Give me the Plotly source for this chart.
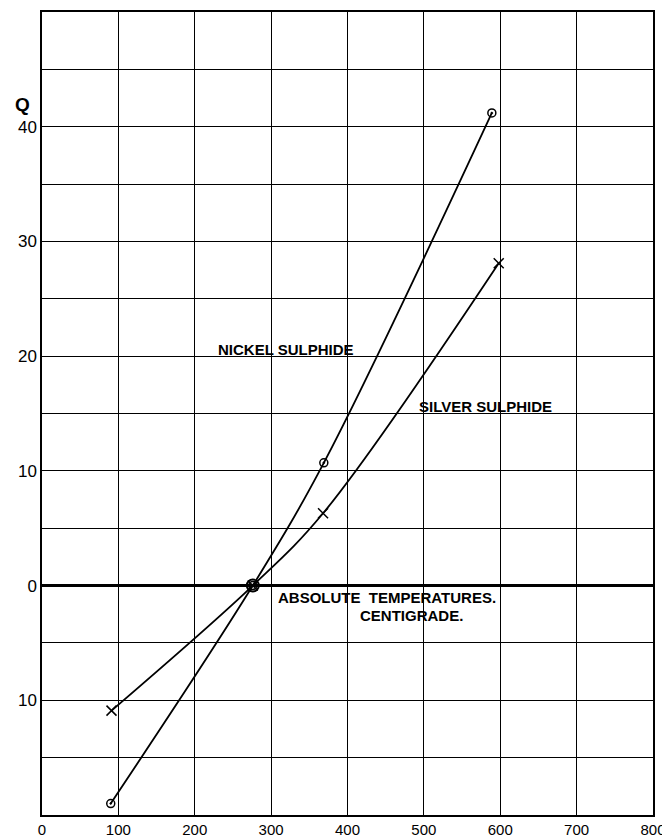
import plotly.graph_objects as go

nickel_x = [90, 276, 369, 589]
nickel_y = [-19.0, 0.0, 10.7, 41.2]
silver_x = [91, 276, 368, 598]
silver_y = [-10.9, 0.0, 6.3, 28.1]

x_ticks = [0, 100, 200, 300, 400, 500, 600, 700, 800]
y_tickvals = [-10, 0, 10, 20, 30, 40]
y_ticktext = ["10", "0", "10", "20", "30", "40"]

FONT = "Liberation Sans"

fig = go.Figure()
fig.add_trace(go.Scatter(
    x=nickel_x, y=nickel_y, mode="lines+markers",
    line=dict(color="black", width=1.8, shape="spline", smoothing=1.0),
    marker=dict(symbol="circle-open-dot", size=8, color="black", line=dict(width=1.5)),
    showlegend=False))
fig.add_trace(go.Scatter(
    x=silver_x, y=silver_y, mode="lines+markers",
    line=dict(color="black", width=1.8, shape="spline", smoothing=1.0),
    marker=dict(symbol="x-thin-open", size=10, color="black", line=dict(width=1.5, color="black")),
    showlegend=False))
fig.add_trace(go.Scatter(
    x=[nickel_x[1]], y=[nickel_y[1]], mode="markers",
    marker=dict(symbol="circle-open-dot", size=12, color="black", line=dict(width=2)),
    showlegend=False))

ann_font = dict(family=FONT, size=15, color="black")
fig.add_annotation(x=320, y=20.6, text="<b>NICKEL SULPHIDE</b>", showarrow=False,
                   xanchor="center", font=ann_font)
fig.add_annotation(x=581, y=15.6, text="<b>SILVER SULPHIDE</b>", showarrow=False,
                   xanchor="center", font=ann_font)
fig.add_annotation(x=307, y=-1.05, text="<b>ABSOLUTE  TEMPERATURES.</b>", showarrow=False,
                   xanchor="left", font=ann_font)
fig.add_annotation(x=484, y=-2.6, text="<b>CENTIGRADE.</b>", showarrow=False,
                   xanchor="center", font=ann_font)
fig.add_annotation(x=0, y=41.9, text="<b>Q</b>", showarrow=False, xref="paper",
                   xanchor="right", xshift=-10, font=dict(family=FONT, size=19, color="black"))

fig.update_xaxes(range=[0, 800], tickvals=x_ticks, ticks="", showgrid=True,
                 gridcolor="black", gridwidth=1, showline=True, linecolor="black",
                 linewidth=1.5, mirror=True, zeroline=False, automargin=False,
                 tickfont=dict(family=FONT, size=15, color="black"))
fig.update_yaxes(range=[-20, 50], tickvals=y_tickvals, ticktext=y_ticktext, ticks="",
                 showgrid=True, gridcolor="black", gridwidth=1,
                 minor=dict(dtick=5, tick0=0, showgrid=True, gridcolor="black", gridwidth=1),
                 showline=True, linecolor="black", linewidth=1.5, mirror=True,
                 zeroline=True, zerolinecolor="black", zerolinewidth=2.5, automargin=False,
                 tickfont=dict(family=FONT, size=17, color="black"))

# page body has an 8px margin, so the figure is sized to fit the window
fig.update_layout(width=662, height=831, plot_bgcolor="white", paper_bgcolor="white",
                  margin=dict(l=34, r=17, t=4, b=24))

fig.write_html("out.html")
